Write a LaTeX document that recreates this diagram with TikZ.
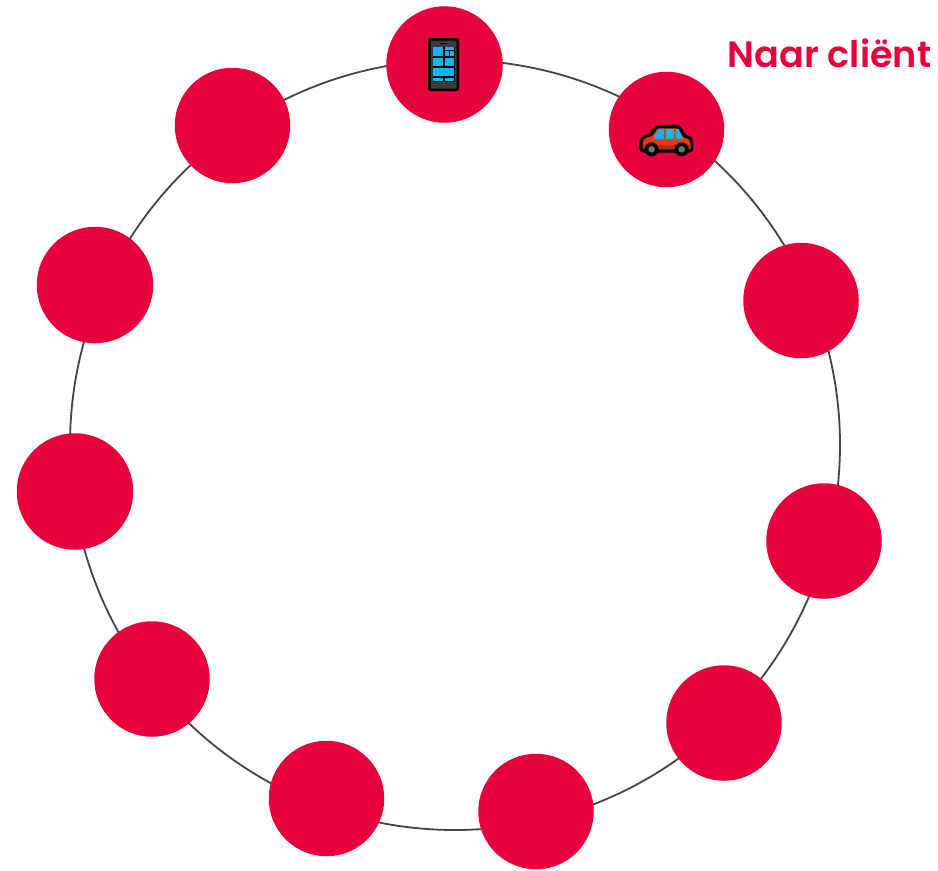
\documentclass[tikz,border=0pt]{standalone}
\usepackage{fontspec}
\newfontfamily\labelfont{Poppins SemiBold}
\definecolor{brand}{HTML}{E8003C}
\definecolor{ringgray}{HTML}{444444}
\definecolor{tile}{HTML}{12B5EE}
\definecolor{phonegray}{HTML}{3A3A3A}
\definecolor{carred}{HTML}{E83A10}
\definecolor{cardark}{HTML}{B52A10}
\tikzset{
  dot/.style={circle,fill=brand,draw=none,inner sep=0pt,minimum size=115.5pt},
  bigdot/.style={dot,minimum size=116.5pt},
  ringline/.style={circle,draw=ringgray,line width=1.8pt,inner sep=0pt,minimum size=770pt},
  caption/.style={text=brand,inner sep=0pt,anchor=base east,font=\labelfont\fontsize{36.6}{40}\selectfont},
  tilebox/.style={fill=tile,draw=none}
}
\begin{document}
\begin{tikzpicture}[x=1pt,y=-1pt]
\useasboundingbox (0,0) rectangle (938,871);
\fill[white] (0,0) rectangle (938,871);
\node[ringline] (ring) at (455,445) {};
\node[bigdot] (n1) at (444.5,64.5) {};
\node[dot] (n2) at (666.5,129.5) {};
\node[dot] (n3) at (801,300.5) {};
\node[dot] (n4) at (824,541) {};
\node[dot] (n5) at (724,723) {};
\node[dot] (n6) at (536,811.5) {};
\node[dot] (n7) at (326.5,798.5) {};
\node[dot] (n8) at (152,679) {};
\node[bigdot] (n9) at (75,491.5) {};
\node[bigdot] (n10) at (95,285) {};
\node[dot] (n11) at (232.5,125.5) {};
\node[caption] (cap) at (931.5,67) {Naar cliënt};
% phone icon
\fill[black,rounded corners=2.5pt] (428,38) rectangle (459,91);
\fill[phonegray,rounded corners=1pt] (430.5,40.5) rectangle (456.5,88.5);
\fill[black] (440,42.5) rectangle (447,44);
\fill[black] (432.5,46.5) rectangle (454.5,82);
\fill[tilebox] (433,47) rectangle (442.5,55.5);
\fill[tilebox] (445,47) rectangle (454,49.5);
\fill[tilebox] (445,51) rectangle (449,55.5);
\fill[tilebox] (450,51) rectangle (454,55.5);
\fill[tilebox] (433,58) rectangle (442.5,65.5);
\fill[tilebox] (445,58) rectangle (454,65.5);
\fill[tilebox] (433,68) rectangle (454,76);
\fill[tilebox] (433,77.5) rectangle (442.5,81);
\fill[tilebox] (445,77.5) rectangle (454,81);
\fill[black!70] (444,85) circle (1.3pt);
% car icon
\begin{scope}[shift={(600,20)},x=0.3333pt,y=-0.3333pt]
\fill[black,rounded corners=3pt] (118,395) -- (118,358) -- (128,347) -- (150,340) -- (166,315) -- (240,315) -- (257,345) -- (272,348) -- (280,360) -- (280,395) -- (262,398) -- (245,410) -- (228,398) -- (172,398) -- (155,410) -- (138,398) -- cycle;
\fill[carred,rounded corners=2pt] (128,388) -- (128,362) -- (136,354) -- (158,348) -- (172,325) -- (234,325) -- (250,354) -- (266,356) -- (272,366) -- (272,388) -- cycle;
\fill[tile] (160,357) -- (175,327) -- (192,327) -- (192,357) -- cycle;
\fill[tile] (198,327) -- (222,327) -- (222,357) -- (198,357) -- cycle;
\fill[tile] (228,327) -- (236,327) -- (249,356) -- (228,357) -- cycle;
\fill[cardark] (128,376) rectangle (272,388);
\fill[black] (155,388) circle (21);
\fill[black] (245,388) circle (21);
\fill[black!55] (155,388) circle (10);
\fill[black!55] (245,388) circle (10);
\end{scope}
\end{tikzpicture}
\end{document}
